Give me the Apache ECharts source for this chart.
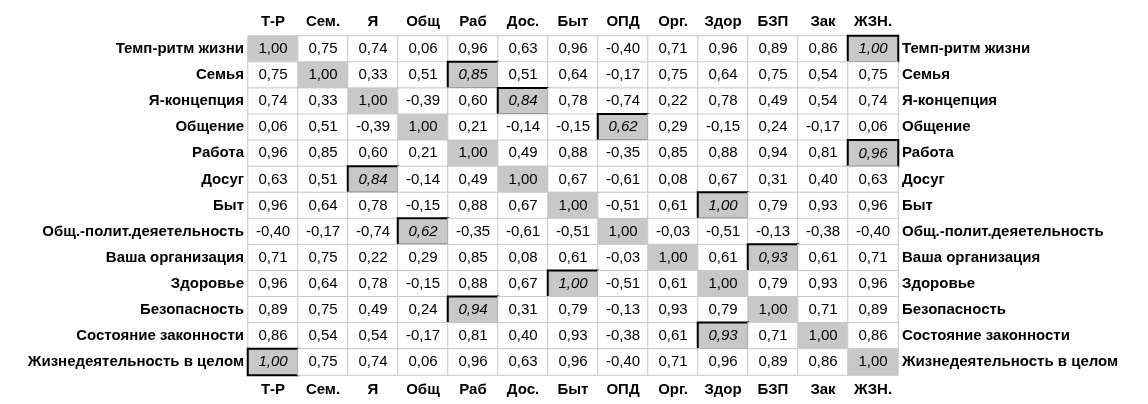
<!DOCTYPE html>
<html><head><meta charset="utf-8">
<script src="https://cdn.jsdelivr.net/npm/echarts@6/dist/echarts.min.js"></script>
<style>html,body{margin:0;padding:0;background:#fff}#c{width:1148px;height:404px}</style>
</head><body><div id="c"></div>
<script>
const colLabels = ['Т-Р','Сем.','Я','Общ','Раб','Дос.','Быт','ОПД','Орг.','Здор','БЗП','Зак','ЖЗН.'];
const rowLabels = ['Темп-ритм жизни','Семья','Я-концепция','Общение','Работа','Досуг','Быт','Общ.-полит.деяетельность','Ваша организация','Здоровье','Безопасность','Состояние законности','Жизнедеятельность в целом'];
const values = [
[1.00,0.75,0.74,0.06,0.96,0.63,0.96,-0.40,0.71,0.96,0.89,0.86,1.00],
[0.75,1.00,0.33,0.51,0.85,0.51,0.64,-0.17,0.75,0.64,0.75,0.54,0.75],
[0.74,0.33,1.00,-0.39,0.60,0.84,0.78,-0.74,0.22,0.78,0.49,0.54,0.74],
[0.06,0.51,-0.39,1.00,0.21,-0.14,-0.15,0.62,0.29,-0.15,0.24,-0.17,0.06],
[0.96,0.85,0.60,0.21,1.00,0.49,0.88,-0.35,0.85,0.88,0.94,0.81,0.96],
[0.63,0.51,0.84,-0.14,0.49,1.00,0.67,-0.61,0.08,0.67,0.31,0.40,0.63],
[0.96,0.64,0.78,-0.15,0.88,0.67,1.00,-0.51,0.61,1.00,0.79,0.93,0.96],
[-0.40,-0.17,-0.74,0.62,-0.35,-0.61,-0.51,1.00,-0.03,-0.51,-0.13,-0.38,-0.40],
[0.71,0.75,0.22,0.29,0.85,0.08,0.61,-0.03,1.00,0.61,0.93,0.61,0.71],
[0.96,0.64,0.78,-0.15,0.88,0.67,1.00,-0.51,0.61,1.00,0.79,0.93,0.96],
[0.89,0.75,0.49,0.24,0.94,0.31,0.79,-0.13,0.93,0.79,1.00,0.71,0.89],
[0.86,0.54,0.54,-0.17,0.81,0.40,0.93,-0.38,0.61,0.93,0.71,1.00,0.86],
[1.00,0.75,0.74,0.06,0.96,0.63,0.96,-0.40,0.71,0.96,0.89,0.86,1.00]];
// highlighted (boxed) cells: [row, col]
const boxed = [[0,12],[1,4],[2,5],[3,7],[4,12],[5,2],[6,9],[7,3],[8,10],[9,6],[10,4],[11,9],[12,0]];

const isBoxed = (r,c) => boxed.some(b => b[0]===r && b[1]===c);
const data = [];
values.forEach((row,r) => row.forEach((v,c) => {
  const bx = isBoxed(r,c), diag = r===c;
  data.push({
    value:[c,r,v],
    itemStyle:{color:(bx||diag)?'#c8c8c8':'#ffffff',borderColor:bx?'#000':'#c8c8c8',borderWidth:bx?2:1},
    label:{fontStyle:bx?'italic':'normal'}
  });
}));
const font = 'Liberation Sans, Arial, sans-serif';
const xAx = pos => ({type:'category',data:colLabels,position:pos,axisLine:{show:false},axisTick:{show:false},
  axisLabel:{fontFamily:font,fontWeight:'bold',fontSize:15,color:'#000',margin:7},splitLine:{show:false}});
const yAx = pos => ({type:'category',data:rowLabels,inverse:true,position:pos,axisLine:{show:false},axisTick:{show:false},
  axisLabel:{fontFamily:font,fontWeight:'bold',fontSize:15,color:'#000',margin:4},splitLine:{show:false}});
const chart = echarts.init(document.getElementById('c'));
chart.setOption({
  animation:false,
  grid:{left:248,right:250,top:36,bottom:29},
  xAxis:[xAx('top'),xAx('bottom')],
  yAxis:[yAx('left'),yAx('right')],
  series:[{type:'heatmap',data:data,
    label:{show:true,fontFamily:font,fontSize:15,color:'#000',
      formatter:p=>p.value[2].toFixed(2).replace('.',',')}}]
});
</script></body></html>
